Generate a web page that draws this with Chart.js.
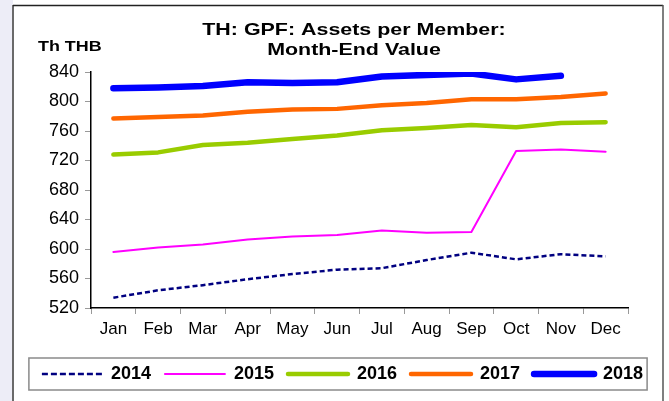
<!DOCTYPE html>
<html>
<head>
<meta charset="utf-8">
<script src="https://cdn.jsdelivr.net/npm/chart.js@4"></script>
<style>
  html, body { margin: 0; padding: 0; background: #fff; }
  #wrap { width: 669px; height: 401px; position: relative; }
</style>
</head>
<body>
<div id="wrap"><canvas id="c" width="669" height="401"></canvas></div>
<script>
// ---- data ----
const months = ['Jan','Feb','Mar','Apr','May','Jun','Jul','Aug','Sep','Oct','Nov','Dec'];
const seriesNames = ['2014','2015','2016','2017','2018'];
const y2014 = [534,544,551,559,566,572,574,585,595,586,593,590];
const y2015 = [596,602,606,613,617,619,625,622,623,733,735,732];
const y2016 = [728,731,741,744,749,754,761,764,768,765,771,772];
const y2017 = [777,779,781,786,789,790,795,798,803,803,806,811];
const y2018 = [818,819,821,826,825,826,834,836,838,830,835,null];
const yMin = 520, yMax = 840, yStep = 40;
const titleLines = ['TH: GPF: Assets per Member:', 'Month-End Value'];
const unitLabel = 'Th THB';

const FONT = '"Liberation Sans", Arial, Helvetica, sans-serif';

const decorPlugin = {
  id: 'decor',
  beforeDraw(chart) {
    const ctx = chart.ctx;
    ctx.save();
    ctx.fillStyle = '#ffffff';
    ctx.fillRect(0, 0, chart.width, chart.height);
    ctx.fillStyle = '#EDEDF7';
    ctx.fillRect(0, 0, 13, chart.height);
    // frame
    ctx.strokeStyle = '#6a6a6a';
    ctx.lineWidth = 2;
    ctx.beginPath(); ctx.moveTo(13, 5); ctx.lineTo(13, chart.height); ctx.stroke();
    ctx.strokeStyle = '#222';
    ctx.lineWidth = 1.5;
    ctx.beginPath(); ctx.moveTo(13, 5.5); ctx.lineTo(663, 5.5); ctx.stroke();
    ctx.strokeStyle = '#555';
    ctx.beginPath(); ctx.moveTo(663, 5); ctx.lineTo(663, chart.height); ctx.stroke();
    // legend box
    const lg = chart.legend;
    if (lg && lg.legendHitBoxes && lg.legendHitBoxes.length) {
      const hb = lg.legendHitBoxes;
      const first = hb[0], last = hb[hb.length - 1];
      const cy = first.top + first.height / 2;
      const x0 = first.left - 13, x1 = last.left + last.width + 4;
      ctx.strokeStyle = '#8a8a8a';
      ctx.lineWidth = 1.5;
      ctx.strokeRect(x0, cy - 16, x1 - x0, 32);
    }
    ctx.restore();
  },
  afterLayout(chart) {
    const lg = chart.legend;
    if (lg) { lg.left += 8; lg.right += 8; }
  },
  afterDraw(chart) {
    const ctx = chart.ctx;
    ctx.save();
    ctx.fillStyle = '#000';
    ctx.textBaseline = 'middle';
    ctx.textAlign = 'center';
    ctx.font = 'bold 17px ' + FONT;
    titleLines.forEach((t, i) => {
      ctx.save();
      ctx.translate(354, 30 + i * 20);
      ctx.scale(1.26, 1);
      ctx.fillText(t, 0, 0);
      ctx.restore();
    });
    ctx.textAlign = 'left';
    ctx.font = 'bold 14px ' + FONT;
    ctx.save();
    ctx.translate(38, 47);
    ctx.scale(1.28, 1);
    ctx.fillText(unitLabel, 0, 0);
    ctx.restore();
    ctx.restore();
  }
};

const styles = [
  { color: '#000080', width: 2.5, dash: [5, 3], legendDash: [6, 3], cap: 'butt' },
  { color: '#FF00FF', width: 2, dash: [], legendDash: [], cap: 'round' },
  { color: '#99CC00', width: 4.5, dash: [], legendDash: [], cap: 'round' },
  { color: '#FF6600', width: 4.5, dash: [], legendDash: [], cap: 'round' },
  { color: '#0000FF', width: 6.5, dash: [], legendDash: [], cap: 'round' }
];
const values = [y2014, y2015, y2016, y2017, y2018];

const datasets = seriesNames.map((name, i) => ({
  label: name,
  data: values[i],
  yAxisID: 'y',
  borderColor: styles[i].color,
  backgroundColor: styles[i].color,
  borderWidth: styles[i].width,
  borderDash: styles[i].dash,
  borderCapStyle: styles[i].cap,
  borderJoinStyle: 'round',
  pointRadius: 0,
  pointHoverRadius: 0,
  tension: 0,
  fill: false,
  spanGaps: false
}));

new Chart(document.getElementById('c'), {
  type: 'line',
  data: { labels: months, datasets },
  plugins: [decorPlugin],
  options: {
    responsive: false,
    animation: false,
    events: [],
    layout: { padding: { left: 0, right: 0, top: 72, bottom: 8 } },
    plugins: {
      title: { display: false },
      tooltip: { enabled: false },
      legend: {
        display: true,
        position: 'bottom',
        align: 'center',
        labels: {
          usePointStyle: true,
          pointStyle: 'line',
          pointStyleWidth: 60,
          color: '#000',
          padding: 14,
          font: { family: FONT, size: 18, weight: 'bold' },
          generateLabels(chart) {
            const items = Chart.defaults.plugins.legend.labels.generateLabels(chart);
            items.forEach((it) => {
              const st = styles[it.datasetIndex];
              it.lineDash = st.legendDash;
              it.lineWidth = st.width;
              it.strokeStyle = st.color;
              it.lineCap = st.cap;
            });
            return items;
          }
        }
      }
    },
    scales: {
      x: {
        type: 'category',
        offset: true,
        afterFit(s) { s.height = 43; },
        grid: { display: true, drawOnChartArea: false, drawTicks: true, tickLength: 6, color: '#999', offset: true },
        border: { display: true, color: '#000', width: 1.5 },
        ticks: { color: '#000', padding: 5, maxRotation: 0, autoSkip: false, font: { family: FONT, size: 17 } }
      },
      y: {
        position: 'left',
        min: yMin, max: yMax,
        afterFit(s) { s.width = 91; },
        grid: { display: true, drawOnChartArea: false, drawTicks: true, tickLength: 6, color: '#999' },
        border: { display: true, color: '#000', width: 1.5 },
        ticks: { stepSize: yStep, color: '#000', padding: 6, font: { family: FONT, size: 18 } }
      },
      yRightSpace: {
        type: 'linear',
        position: 'right',
        display: true,
        min: yMin, max: yMax,
        afterFit(s) { s.width = 41; },
        grid: { display: false },
        border: { display: false },
        ticks: { display: false }
      }
    }
  }
});
</script>
</body>
</html>
